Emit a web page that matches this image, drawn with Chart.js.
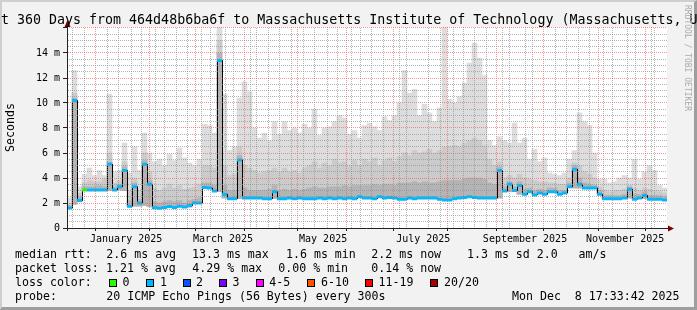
<!DOCTYPE html>
<html>
<head>
<meta charset="utf-8">
<script src="https://cdn.jsdelivr.net/npm/chart.js@4.4.1/dist/chart.umd.min.js"></script>
<style>
  body { margin: 0; background: #fff; }
  #wrap { position: relative; width: 697px; height: 310px; background: #f2f2f2; overflow: hidden; font-family: 'DejaVu Sans Mono', monospace; color: #000; }
  #shade { position: absolute; left: 0; top: 0; width: 697px; height: 310px; box-sizing: border-box;
           border-top: 2px solid #cfcfcf; border-left: 2px solid #cfcfcf; border-right: 3px solid #9e9e9e; border-bottom: 3px solid #9e9e9e; }
  #c { position: absolute; left: 0; top: 0; }
  .title { position: absolute; left: -23px; top: 13px; font-size: 13.3px; line-height: 13px; white-space: nowrap; }
  .wm { position: absolute; left: 683px; top: 5px; font-size: 8px; line-height: 8px; writing-mode: vertical-rl; color: #aaa; white-space: nowrap; }
  .row { position: absolute; left: 0; width: 697px; height: 14px; font-size: 11.6px; line-height: 14px; white-space: pre; }
  .row span { position: absolute; top: 0; }
  .row .box { top: 4px; width: 8px; height: 8px; border: 1px solid #000; box-sizing: border-box; }
</style>
</head>
<body>
<div id="wrap">
  <div id="shade"></div>
  <canvas id="c" width="697" height="310"></canvas>
  <div class="title">Last 360 Days from 464d48b6ba6f to Massachusetts Institute of Technology (Massachusetts, US)</div>
  <div class="wm">RRDTOOL / TOBI OETIKER</div>
  <div class="row" style="top:247px">
    <span style="left:15px">median rtt:</span><span style="left:106.3px">2.6 ms avg</span><span style="left:192px">13.3 ms max</span><span style="left:286px">1.6 ms min</span><span style="left:371.3px">2.2 ms now</span><span style="left:467px">1.3 ms sd</span><span style="left:536.7px">2.0</span><span style="left:578.5px">am/s</span>
  </div>
  <div class="row" style="top:261px">
    <span style="left:15px">packet loss:</span><span style="left:106px">1.21 % avg</span><span style="left:192.3px">4.29 % max</span><span style="left:278.3px">0.00 % min</span><span style="left:371.3px">0.14 % now</span>
  </div>
  <div class="row" style="top:275px">
    <span style="left:15px">loss color:</span>
    <span class="box" style="left:109px;background:#26ff00"></span><span style="left:122.5px">0</span>
    <span class="box" style="left:145.5px;background:#00b8ff"></span><span style="left:160px">1</span>
    <span class="box" style="left:182.5px;background:#0059ff"></span><span style="left:196px">2</span>
    <span class="box" style="left:219px;background:#7e00ff"></span><span style="left:232.5px">3</span>
    <span class="box" style="left:256px;background:#ff00ff"></span><span style="left:269.2px">4-5</span>
    <span class="box" style="left:307px;background:#ff5500"></span><span style="left:321px">6-10</span>
    <span class="box" style="left:365px;background:#ff0000"></span><span style="left:378.5px">11-19</span>
    <span class="box" style="left:430px;background:#a10000"></span><span style="left:444px">20/20</span>
  </div>
  <div class="row" style="top:289px">
    <span style="left:15px">probe:</span><span style="left:106.3px">20 ICMP Echo Pings (56 Bytes) every 300s</span><span style="left:512px">Mon Dec  8 17:33:42 2025</span>
  </div>
</div>
<script>
// 360 days, 120 bins of 3 days, values in ms
const median = [
  1.6, 10.2, 2.2, 3.05, 3.05, 3.05, 3.05, 3.05, 5.1, 3.05,
  3.3, 4.6, 1.75, 3.3, 2.0, 5.1, 3.5, 1.62, 1.58, 1.65,
  1.72, 1.65, 1.75, 1.68, 1.8, 2.0, 2.0, 3.25, 3.2, 2.96,
  13.4, 2.7, 2.35, 2.35, 5.45, 2.4, 2.4, 2.4, 2.4, 2.35,
  2.35, 2.9, 2.35, 2.35, 2.4, 2.35, 2.4, 2.35, 2.35, 2.35,
  2.4, 2.35, 2.4, 2.35, 2.4, 2.35, 2.4, 2.35, 2.5, 2.4,
  2.4, 2.35, 2.5, 2.4, 2.45, 2.4, 2.3, 2.3, 2.4, 2.35,
  2.4, 2.4, 2.4, 2.4, 2.3, 2.25, 2.25, 2.35, 2.4, 2.45,
  2.5, 2.45, 2.4, 2.4, 2.4, 2.4, 4.6, 2.96, 3.5, 3.0,
  3.4, 2.7, 2.9, 2.65, 2.8, 2.7, 2.9, 2.9, 2.7, 2.8,
  3.3, 4.7, 3.5, 3.2, 3.2, 3.2, 2.7, 2.35, 2.35, 2.35,
  2.35, 2.4, 3.1, 2.3, 2.4, 2.6, 2.3, 2.3, 2.3, 2.25
];
// bottom of the smoke (fastest ping)
const smokeMin = [
  1.6, 1.9, 2.1, 3.0, 3.0, 3.0, 3.0, 3.0, 3.0, 3.0,
  3.05, 3.0, 1.7, 1.75, 1.75, 1.8, 1.7, 1.62, 1.58, 1.65,
  1.72, 1.65, 1.75, 1.68, 1.68, 2.0, 2.0, 3.2, 3.2, 2.96,
  2.9, 2.4, 2.35, 2.35, 2.35, 2.4, 2.4, 2.4, 2.4, 2.35,
  2.35, 2.35, 2.35, 2.35, 2.4, 2.35, 2.4, 2.35, 2.35, 2.35,
  2.4, 2.35, 2.4, 2.35, 2.4, 2.35, 2.4, 2.35, 2.5, 2.4,
  2.4, 2.35, 2.5, 2.4, 2.45, 2.4, 2.3, 2.3, 2.4, 2.35,
  2.4, 2.4, 2.4, 2.4, 2.3, 2.25, 2.25, 2.35, 2.4, 2.45,
  2.5, 2.45, 2.4, 2.4, 2.4, 2.4, 2.4, 2.96, 2.9, 3.0,
  2.7, 2.7, 2.9, 2.65, 2.8, 2.7, 2.9, 2.9, 2.7, 2.8,
  3.3, 3.2, 3.2, 3.2, 3.2, 3.2, 2.7, 2.35, 2.35, 2.35,
  2.35, 2.4, 2.4, 2.3, 2.4, 2.35, 2.3, 2.3, 2.3, 2.25
];
// top of the outer (lightest) smoke
const smokeHi = [
  2.4, 12.6, 3.3, 4.3, 4.8, 4.2, 4.6, 4.2, 10.7, 4.5,
  4.6, 6.8, 4.4, 6.5, 4.6, 7.6, 6.0, 5.3, 5.5, 5.0,
  5.9, 5.4, 6.4, 5.6, 5.2, 5.0, 5.5, 8.3, 8.2, 7.6,
  16.2, 10.7, 6.2, 6.5, 10.4, 11.7, 10.9, 8.0, 7.2, 7.6,
  7.0, 8.5, 7.5, 8.5, 7.8, 8.0, 7.6, 8.3, 8.0, 9.5,
  7.4, 8.0, 8.1, 8.5, 9.0, 8.8, 7.5, 7.8, 7.2, 8.2,
  8.4, 8.1, 7.8, 8.9, 8.6, 9.0, 10.0, 12.6, 10.8, 11.1,
  9.0, 9.9, 9.2, 8.5, 9.6, 16.2, 10.3, 10.0, 10.5, 11.6,
  13.2, 14.8, 13.6, 12.2, 7.0, 6.6, 7.3, 7.0, 6.8, 8.4,
  6.8, 7.2, 5.5, 6.3, 5.3, 5.6, 4.4, 4.3, 4.2, 4.4,
  5.5, 6.2, 9.2, 8.5, 8.2, 6.0, 3.9, 3.9, 3.6, 3.7,
  4.0, 4.2, 4.0, 5.5, 3.9, 4.5, 5.0, 4.6, 3.4, 3.2
];
// top of the middle smoke
const smokeMid = [
  2.0, 10.8, 2.8, 3.6, 3.8, 3.7, 3.7, 3.9, 6.0, 3.6,
  3.8, 5.3, 3.0, 4.0, 3.0, 6.0, 4.5, 3.2, 3.0, 3.2,
  3.5, 3.2, 3.4, 3.1, 3.2, 3.3, 3.5, 5.0, 5.0, 4.8,
  15.0, 5.0, 4.2, 4.3, 6.5, 5.0, 4.8, 4.6, 4.4, 4.5,
  4.6, 4.8, 4.5, 4.8, 4.5, 4.6, 4.4, 4.8, 5.0, 5.3,
  4.8, 5.2, 5.0, 5.5, 5.2, 5.3, 5.0, 5.4, 5.0, 5.5,
  5.3, 5.6, 5.0, 5.4, 5.6, 5.3, 5.7, 6.0, 5.8, 6.2,
  6.0, 6.1, 6.3, 6.0, 6.2, 6.5, 6.5, 6.6, 6.5, 6.8,
  7.0, 7.2, 7.0, 6.6, 5.5, 5.0, 5.3, 4.0, 4.2, 4.0,
  4.3, 4.0, 3.9, 3.8, 3.7, 3.7, 3.6, 3.6, 3.5, 3.5,
  4.0, 5.2, 5.0, 4.5, 4.3, 4.0, 3.3, 3.0, 2.9, 3.0,
  3.0, 3.1, 3.4, 3.2, 3.0, 3.2, 3.1, 3.0, 2.9, 2.8
];
// top of the dark smoke next to the median
const smokeLow = [
  1.8, 10.4, 2.5, 3.3, 3.3, 3.3, 3.4, 3.3, 5.3, 3.3,
  3.5, 4.9, 2.2, 3.6, 2.3, 5.4, 3.8, 2.1, 2.0, 2.1,
  2.2, 2.1, 2.2, 2.0, 2.2, 2.3, 2.4, 3.6, 3.6, 3.4,
  14.0, 3.4, 3.0, 3.0, 5.8, 3.2, 3.0, 3.0, 3.0, 3.0,
  3.1, 3.4, 3.0, 3.1, 3.0, 3.1, 3.0, 3.1, 3.2, 3.3,
  3.2, 3.2, 3.3, 3.3, 3.3, 3.4, 3.3, 3.4, 3.4, 3.4,
  3.4, 3.5, 3.4, 3.5, 3.5, 3.4, 3.6, 3.6, 3.6, 3.7,
  3.6, 3.7, 3.6, 3.6, 3.7, 3.8, 3.8, 3.8, 3.8, 3.9,
  4.0, 4.0, 4.0, 3.9, 3.6, 3.5, 4.9, 3.3, 3.7, 3.3,
  3.7, 3.1, 3.2, 3.0, 3.1, 3.0, 3.2, 3.2, 3.0, 3.0,
  3.6, 5.0, 4.0, 3.6, 3.5, 3.4, 3.0, 2.6, 2.6, 2.6,
  2.6, 2.7, 3.3, 2.7, 2.7, 2.9, 2.6, 2.6, 2.6, 2.5
];
// lost pings (of 20) per bin, picks the median colour
const loss = [
  1, 1, 1, 0, 1, 1, 1, 1, 1, 1,  1, 1, 1, 1, 1, 1, 1, 1, 1, 1,
  1, 1, 1, 1, 1, 1, 1, 1, 1, 1,  1, 1, 1, 1, 1, 1, 1, 1, 1, 1,
  1, 1, 1, 1, 1, 1, 1, 1, 1, 1,  1, 1, 1, 1, 1, 1, 1, 1, 1, 1,
  1, 1, 1, 1, 1, 1, 1, 1, 1, 1,  1, 1, 1, 1, 1, 1, 1, 1, 1, 1,
  1, 1, 1, 1, 1, 1, 1, 1, 1, 1,  1, 1, 1, 1, 1, 1, 1, 1, 1, 1,
  1, 1, 1, 1, 1, 1, 1, 1, 1, 1,  1, 1, 1, 1, 1, 1, 1, 1, 1, 1
];
const lossColors = ['#26ff00', '#00b8ff', '#0059ff', '#7e00ff', '#ff00ff', '#ff5500', '#ff0000', '#a10000'];
const monthLabels = ['January 2025', 'March 2025', 'May 2025', 'July 2025', 'September 2025', 'November 2025'];
const labelMonths = [0, 2, 4, 6, 8, 10];
const yLabelEvery = 2;

const DAY = 86400000;
const T0 = Date.UTC(2024, 11, 13, 17, 33, 42);
const SPAN = 360;
const YMAX = 16.08;
const dayOf = (y, m, d) => (Date.UTC(y, m, d) - T0) / DAY;

const canvas = document.getElementById('c');
const ctx = canvas.getContext('2d');

// rrdtool style dotted grid: one pixel on, one off
function dots(color) {
  const p = document.createElement('canvas');
  p.width = 2; p.height = 2;
  const g = p.getContext('2d');
  g.fillStyle = color;
  g.fillRect(0, 0, 1, 1);
  g.fillRect(1, 1, 1, 1);
  return ctx.createPattern(p, 'repeat');
}
const GRID = dots('rgba(140,140,140,0.65)');
const MGRID = dots('rgba(240,80,80,0.6)');
const AXIS = '#212121';
const NONE = 'rgba(0,0,0,0)';

function lossColor(n) {
  if (n <= 3) return lossColors[n];
  if (n <= 5) return lossColors[4];
  if (n <= 10) return lossColors[5];
  if (n <= 19) return lossColors[6];
  return lossColors[7];
}

// time axis ticks: weekly minor lines, monthly major lines, labels mid month
const monthSet = new Set();
for (let k = 0; k < 12; k++) monthSet.add(dayOf(2025, k, 1));
const labelAt = new Map();
labelMonths.forEach((m, i) => labelAt.set(dayOf(2025, m, 16), monthLabels[i]));
const tSet = new Set(monthSet);
for (let d = dayOf(2024, 11, 18); d < SPAN; d += 7) tSet.add(d);
labelAt.forEach((_, d) => tSet.add(d));
const tTicks = [...tSet].filter(d => d > 0 && d < SPAN).sort((a, b) => a - b);

const yTicks = [];
for (let v = 0.5; v <= 16; v += 0.5) yTicks.push(v);
yTicks.unshift(0);

const binLabels = median.map((_, i) => new Date(T0 + i * 3 * DAY).toISOString().slice(0, 10));

const tickVal = c => (c && c.tick ? c.tick.value : null);
const isMajorY = c => tickVal(c) !== null && tickVal(c) % yLabelEvery === 0;

const rrdLook = {
  id: 'rrdLook',
  beforeDraw(chart) {
    const {ctx, chartArea: a} = chart;
    ctx.save();
    ctx.fillStyle = '#ffffff';
    ctx.fillRect(a.left, a.top, a.right - a.left, a.bottom - a.top);
    ctx.restore();
  },
  beforeDatasetDraw(chart, args) {
    if (args.index === 1) { chart.ctx.save(); chart.ctx.translate(0.5, 0); }
  },
  afterDatasetDraw(chart, args) {
    if (args.index === 1) chart.ctx.restore();
  },
  afterDraw(chart) {
    const {ctx, chartArea: a} = chart;
    const x0 = a.left + 0.5, y0 = a.bottom + 0.5;
    ctx.save();
    ctx.strokeStyle = AXIS; ctx.lineWidth = 1;
    ctx.beginPath();
    ctx.moveTo(x0, a.bottom + 3); ctx.lineTo(x0, a.top - 4);
    ctx.moveTo(a.left - 4, y0); ctx.lineTo(a.right + 3, y0);
    ctx.stroke();
    ctx.fillStyle = '#800000';
    ctx.beginPath();
    ctx.moveTo(x0, a.top - 7); ctx.lineTo(x0 - 3, a.top); ctx.lineTo(x0 + 3, a.top); ctx.closePath(); ctx.fill();
    ctx.beginPath();
    ctx.moveTo(a.right + 7, y0); ctx.lineTo(a.right + 1, y0 - 3); ctx.lineTo(a.right + 1, y0 + 3); ctx.closePath(); ctx.fill();
    ctx.restore();
  }
};

Chart.defaults.font.family = "'DejaVu Sans Mono', monospace";
Chart.defaults.color = '#000';

const smokeBar = (tops, color) => ({
  type: 'bar',
  data: tops.map((v, i) => [smokeMin[i], v]),
  backgroundColor: color,
  borderWidth: 0,
  grouped: false,
  barPercentage: 1,
  categoryPercentage: 1
});

new Chart(canvas, {
  type: 'bar',
  data: {
    labels: binLabels,
    datasets: [
      {
        type: 'line', data: median, showLine: false,
        pointStyle: 'line', pointRadius: 2.5, pointHoverRadius: 2.5, pointBorderWidth: 3,
        pointBorderColor: loss.map(lossColor), pointBackgroundColor: loss.map(lossColor)
      },
      {
        type: 'line', data: median, stepped: 'middle',
        borderColor: '#000', borderWidth: 1, pointRadius: 0
      },
      smokeBar(smokeLow, '#b4b4b4'),
      smokeBar(smokeMid, '#cbcbcb'),
      smokeBar(smokeHi, '#dddddd')
    ]
  },
  options: {
    responsive: false,
    animation: false,
    devicePixelRatio: 1,
    events: [],
    layout: { padding: { left: 0, top: 27, right: 30, bottom: 62 } },
    plugins: { legend: { display: false }, tooltip: { enabled: false } },
    scales: {
      x: { display: false, offset: true },
      t: {
        type: 'linear', position: 'bottom', min: 0, max: SPAN,
        afterBuildTicks: s => { s.ticks = tTicks.map(v => ({ value: v })); },
        afterFit: s => { s.height = 20; },
        ticks: { autoSkip: false, maxRotation: 0, padding: 2, font: { size: 10 },
                 callback: v => labelAt.get(v) || '' },
        grid: {
          z: 1,
          color: c => monthSet.has(tickVal(c)) ? MGRID : (labelAt.has(tickVal(c)) ? NONE : GRID),
          tickColor: c => monthSet.has(tickVal(c)) ? AXIS : NONE,
          tickLength: 3
        },
        border: { display: false }
      },
      y: {
        type: 'linear', position: 'left', min: 0, max: YMAX,
        afterBuildTicks: s => { s.ticks = yTicks.map(v => ({ value: v })); },
        afterFit: s => { s.width = 67; },
        ticks: { autoSkip: false, padding: 3, font: { size: 10 },
                 callback: v => v === 0 ? '0' : (v % yLabelEvery === 0 && v <= 14 ? v + ' m' : '') },
        title: { display: true, text: 'Seconds', font: { size: 11.6 }, padding: { top: 4, bottom: 0 } },
        grid: {
          z: 1,
          color: c => isMajorY(c) ? MGRID : GRID,
          tickColor: c => isMajorY(c) ? AXIS : NONE,
          tickLength: 4
        },
        border: { display: false }
      }
    }
  },
  plugins: [rrdLook]
});
</script>
</body>
</html>
